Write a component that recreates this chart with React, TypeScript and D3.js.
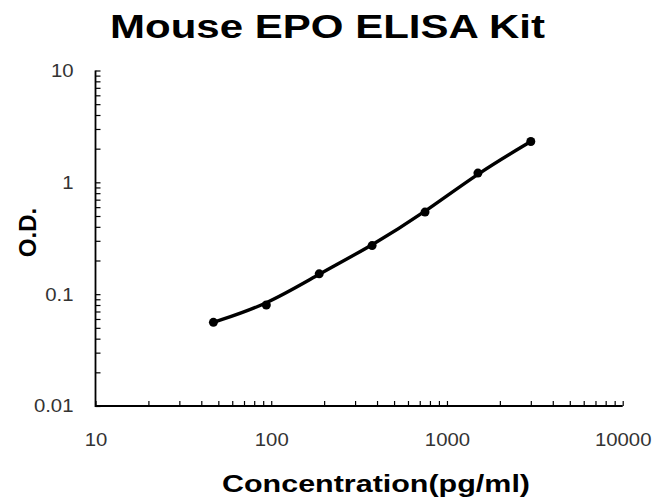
import React, { useEffect, useRef } from 'react';
import * as d3 from 'd3';

// Standard curve readings (pg/ml vs O.D.)
const concentrations = [46.875, 93.75, 187.5, 375, 750, 1500, 3000];
const odValues = [0.056, 0.08, 0.152, 0.272, 0.542, 1.21, 2.32];

const xDomain: [number, number] = [10, 10000];
const yDomain: [number, number] = [0.01, 10];
const majorX = [10, 100, 1000, 10000];
const majorY = [0.01, 0.1, 1, 10];

const chartTitle = 'Mouse EPO ELISA Kit';
const xTitle = 'Concentration(pg/ml)';
const yTitle = 'O.D.';

const width = 654;
const height = 497;

const App: React.FC = () => {
  const svgRef = useRef<SVGSVGElement>(null);

  useEffect(() => {
    if (!svgRef.current) return;
    document.body.style.margin = '0';

    const svg = d3.select(svgRef.current);
    svg.selectAll('*').remove();

    const left = 95.5;
    const right = 622.7;
    const top = 70.5;
    const bottom = 406;

    const x = d3.scaleLog().domain(xDomain).range([left, right]);
    const y = d3.scaleLog().domain(yDomain).range([bottom, top]);

    const tickFont = '"Liberation Sans", Arial, sans-serif';

    // stretch tick labels a little, the source picture is wide
    const widen = (sel: d3.Selection<any, any, any, any>) => {
      sel.each(function (this: SVGTextElement) {
        const t = d3.select(this);
        if (!t.text()) return;
        const w = this.getComputedTextLength();
        t.attr('textLength', w * 1.1).attr('lengthAdjust', 'spacingAndGlyphs');
      });
    };

    // y axis
    const yAxis = d3.axisLeft(y)
      .tickSizeInner(-5)
      .tickSizeOuter(0)
      .tickPadding(22)
      .tickFormat((d: any) => (majorY.includes(+d) ? d3.format('~g')(+d) : ''));

    const gy = svg.append('g')
      .attr('transform', `translate(${left},0)`)
      .call(yAxis);
    gy.select('.domain').remove();
    gy.selectAll('line').attr('stroke', '#000').attr('stroke-width', 1.2);
    gy.selectAll('text')
      .attr('fill', '#333')
      .style('font-family', tickFont)
      .style('font-size', '18.5px');
    widen(gy.selectAll('text'));

    // x axis
    const xAxis = d3.axisBottom(x)
      .tickSizeInner(-5)
      .tickSizeOuter(0)
      .tickPadding(27)
      .tickFormat((d: any) => (majorX.includes(+d) ? String(+d) : ''));

    const gx = svg.append('g')
      .attr('transform', `translate(0,${bottom})`)
      .call(xAxis);
    gx.select('.domain').remove();
    gx.selectAll('line').attr('stroke', '#000').attr('stroke-width', 1.2);
    gx.selectAll('text')
      .attr('fill', '#333')
      .style('font-family', tickFont)
      .style('font-size', '18.5px');
    widen(gx.selectAll('text'));

    // axis lines
    svg.append('path')
      .attr('d', `M${left},${top}V${bottom}H${right}`)
      .attr('fill', 'none')
      .attr('stroke', '#000')
      .attr('stroke-width', 1.8);

    const pts = concentrations.map((c, i) => [c, odValues[i]] as [number, number]);

    // fitted curve
    const line = d3.line<[number, number]>()
      .x(d => x(d[0]))
      .y(d => y(d[1]))
      .curve(d3.curveBasis);

    svg.append('path')
      .datum(pts)
      .attr('d', line)
      .attr('fill', 'none')
      .attr('stroke', '#000')
      .attr('stroke-width', 3.4)
      .attr('stroke-linecap', 'round');

    svg.append('g')
      .selectAll('circle')
      .data(pts)
      .join('circle')
      .attr('cx', d => x(d[0]))
      .attr('cy', d => y(d[1]))
      .attr('r', 4.5)
      .attr('fill', '#000');

    // titles
    svg.append('text')
      .attr('x', 327.5)
      .attr('y', 38)
      .attr('text-anchor', 'middle')
      .attr('textLength', 435)
      .attr('lengthAdjust', 'spacingAndGlyphs')
      .style('font-family', '"Liberation Sans", Arial, sans-serif')
      .style('font-weight', 'bold')
      .style('font-size', '34px')
      .text(chartTitle);

    svg.append('text')
      .attr('x', 376)
      .attr('y', 492)
      .attr('text-anchor', 'middle')
      .attr('textLength', 308)
      .attr('lengthAdjust', 'spacingAndGlyphs')
      .style('font-family', '"Liberation Sans", Arial, sans-serif')
      .style('font-weight', 'bold')
      .style('font-size', '24px')
      .text(xTitle);

    svg.append('text')
      .attr('transform', 'translate(36,232.5) rotate(-90)')
      .attr('text-anchor', 'middle')
      .style('font-family', '"Liberation Sans", Arial, sans-serif')
      .style('font-weight', 'bold')
      .style('font-size', '24px')
      .text(yTitle);
  }, []);

  return (
    <svg
      ref={svgRef}
      width={width}
      height={height}
      style={{ display: 'block', background: '#fff' }}
    />
  );
};

export default App;
